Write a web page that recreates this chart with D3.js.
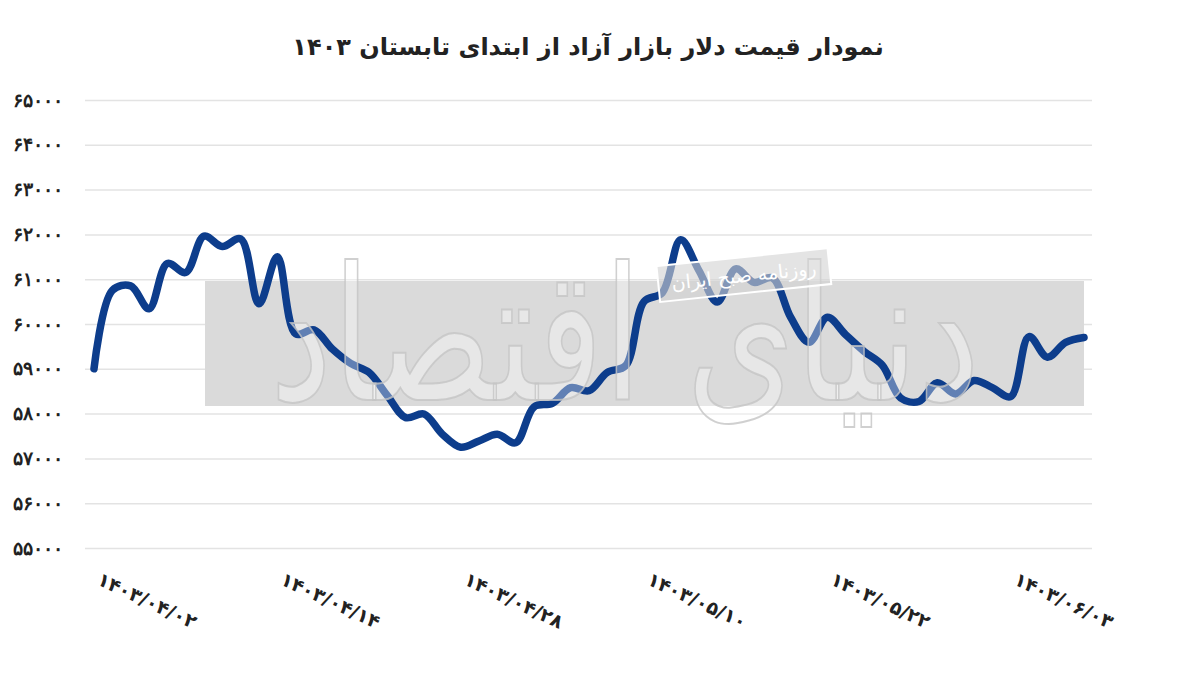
<!DOCTYPE html>
<html>
<head>
<meta charset="utf-8">
<script src="https://cdn.jsdelivr.net/npm/d3@7"></script>
<style>
  body { margin: 0; background: #fff; }
  svg { display: block; font-family: "DejaVu Sans", sans-serif; }
</style>
</head>
<body>
<svg id="chart"></svg>
<script>
// Free market dollar price, daily, from start of summer 1403
const values = [
  59000, 60750, 60850, 60340, 61350, 61150, 61960, 61730, 61900, 60450,
  61500, 59780, 59870, 59440, 59120, 58920, 58400, 57910, 57990, 57540,
  57250, 57390, 57540, 57350, 58150, 58230, 58580, 58510, 58920, 59070,
  60500, 60700, 61880, 61190, 60490, 61230, 60930, 61030, 60150, 59590,
  60150, 59760, 59390, 59080, 58350, 58270, 58690, 58440, 58740, 58580,
  58380, 59720, 59260, 59590, 59700
];
const tickIndex = [0, 10, 20, 30, 40, 50];
const tickLabels = ["1403/04/02", "1403/04/14", "1403/04/28", "1403/05/10", "1403/05/22", "1403/06/03"];
const yTicks = [55000, 56000, 57000, 58000, 59000, 60000, 61000, 62000, 63000, 64000, 65000];
const title = "نمودار قیمت دلار بازار آزاد از ابتدای تابستان 1403";

const W = 1200, H = 676;
const fa = s => String(s).replace(/\d/g, d => "۰۱۲۳۴۵۶۷۸۹"[d]);

const svg = d3.select("#chart").attr("width", W).attr("height", H);

const x = d3.scaleLinear().domain([0, values.length - 1]).range([94, 1084]);
const y = d3.scaleLinear().domain([55000, 65000]).range([548, 100]);

// title
svg.append("text")
    .attr("x", 588).attr("y", 55)
    .attr("text-anchor", "middle")
    .style("font-size", "24px").style("font-weight", "bold")
    .style("fill", "#222")
    .text(fa(title));

// y axis with gridlines
const yAxis = svg.append("g")
    .attr("transform", "translate(85,0)")
    .call(d3.axisLeft(y).tickValues(yTicks).tickSize(-1007).tickFormat(d => fa(d)).tickPadding(22));
yAxis.select(".domain").remove();
yAxis.selectAll(".tick line").style("stroke", "#e3e3e3").style("stroke-width", 1.5);
yAxis.selectAll(".tick text")
    .style("font-size", "19px").style("font-weight", "bold").style("fill", "#222");

// watermark background
const wm = svg.append("g");
wm.append("rect")
    .attr("x", 205).attr("y", 281).attr("width", 879).attr("height", 125)
    .attr("fill", "#dadada");

// line
svg.append("path")
    .datum(values)
    .attr("fill", "none")
    .attr("stroke", "#0d3d8c")
    .attr("stroke-width", 7.5)
    .attr("stroke-linecap", "round")
    .attr("stroke-linejoin", "round")
    .attr("d", d3.line().x((d, i) => x(i)).y(d => y(d)).curve(d3.curveCatmullRom));

// watermark overlay
const wm2 = svg.append("g");
wm2.append("text")
    .attr("x", 625).attr("y", 400)
    .attr("text-anchor", "middle")
    .attr("textLength", 710)
    .attr("lengthAdjust", "spacingAndGlyphs")
    .style("font-size", "185px")
    .style("fill", "#fff").style("fill-opacity", 0.35)
    .style("stroke", "#c4c4c4").style("stroke-width", 2).style("stroke-opacity", 0.8)
    .text("دنیای اقتصاد");
const badge = wm2.append("g").attr("transform", "translate(660,300) rotate(-6)");
badge.append("rect")
    .attr("x", 0).attr("y", -34).attr("width", 172).attr("height", 36)
    .attr("fill", "#d2d2d2").attr("fill-opacity", 0.6)
    .attr("stroke", "#fff").attr("stroke-width", 2);
badge.append("text")
    .attr("x", 86).attr("y", -9)
    .attr("text-anchor", "middle")
    .style("font-size", "19px").style("fill", "#fff")
    .text("روزنامه صبح ایران");

// x labels
svg.append("g").selectAll("text")
    .data(tickIndex)
    .join("text")
    .attr("transform", d => `translate(${x(d) + 2},584) rotate(25)`)
    .attr("direction", "ltr")
    .style("font-size", "19px").style("font-weight", "bold").style("fill", "#222")
    .text((d, i) => fa(tickLabels[i]));
</script>
</body>
</html>
